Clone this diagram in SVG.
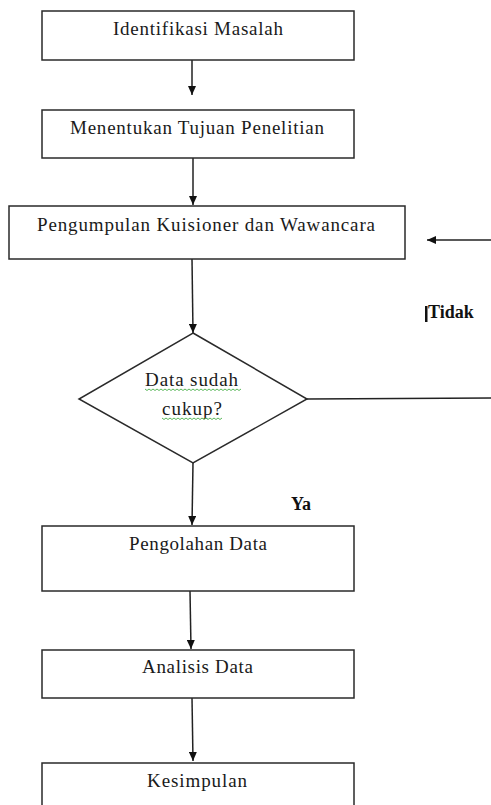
<svg xmlns="http://www.w3.org/2000/svg" width="491" height="805" viewBox="0 0 491 805">
<style>
.box{fill:#fff;stroke:#2a2a2a;stroke-width:1.5}
.lbl{font-family:"Liberation Serif","Times New Roman",serif;font-size:19px;fill:#1a1a1a;text-anchor:start}
.bold{font-family:"Liberation Serif","Times New Roman",serif;font-size:18px;font-weight:bold;fill:#111}
.conn{stroke:#222;stroke-width:1.5;fill:none}
.wavy{stroke:#5cb85c;stroke-width:1;fill:none}
</style>
<defs>
<marker id="ah" markerUnits="userSpaceOnUse" markerWidth="9" markerHeight="8" refX="9" refY="4" orient="auto">
<path d="M0,0 L9,4 L0,8 z" fill="#111"/>
</marker>
</defs>
<rect width="491" height="805" fill="#fff"/>
<g id="connectors">
<line class="conn" x1="192" y1="60" x2="192" y2="95" marker-end="url(#ah)"/>
<line class="conn" x1="193" y1="158" x2="193" y2="205" marker-end="url(#ah)"/>
<line class="conn" x1="192" y1="259" x2="193" y2="333" marker-end="url(#ah)"/>
<line class="conn" x1="193" y1="463" x2="192" y2="525" marker-end="url(#ah)"/>
<line class="conn" x1="190" y1="591" x2="191" y2="649" marker-end="url(#ah)"/>
<line class="conn" x1="192" y1="698" x2="193" y2="761" marker-end="url(#ah)"/>
<line class="conn" x1="307" y1="399" x2="491" y2="398"/>
<line class="conn" x1="491" y1="240" x2="427" y2="240" marker-end="url(#ah)"/>
</g>
<g id="node-identifikasi">
<rect class="box" x="42" y="11" width="312" height="49"/>
<text class="lbl" x="113" y="35" textLength="170" lengthAdjust="spacing">Identifikasi Masalah</text>
</g>
<g id="node-tujuan">
<rect class="box" x="42" y="110" width="312" height="48"/>
<text class="lbl" x="70" y="134" textLength="254" lengthAdjust="spacing">Menentukan Tujuan Penelitian</text>
</g>
<g id="node-pengumpulan">
<rect class="box" x="9" y="206" width="396" height="53"/>
<text class="lbl" x="37" y="231" textLength="338" lengthAdjust="spacing">Pengumpulan Kuisioner dan Wawancara</text>
</g>
<g id="node-decision">
<polygon class="box" points="193,333 307,399 193,463 79,399"/>
<text class="lbl" x="145" y="386" textLength="93" lengthAdjust="spacing">Data sudah</text>
<text class="lbl" x="162" y="415" textLength="60" lengthAdjust="spacing">cukup?</text>
<path class="wavy" d="M145,389 l2,1.5 l2,-1.5 l2,1.5 l2,-1.5 l2,1.5 l2,-1.5 l2,1.5 l2,-1.5 l2,1.5 l2,-1.5 l2,1.5 l2,-1.5 l2,1.5 l2,-1.5 l2,1.5 l2,-1.5 l2,1.5 l2,-1.5 l2,1.5 l2,-1.5 l2,1.5 l2,-1.5 l2,1.5 l2,-1.5 l2,1.5 l2,-1.5 l2,1.5 l2,-1.5 l2,1.5 l2,-1.5 l2,1.5 l2,-1.5 l2,1.5 l2,-1.5 l2,1.5 l2,-1.5 l2,1.5 l2,-1.5 l2,1.5 l2,-1.5 l2,1.5 l2,-1.5 l2,1.5 l2,-1.5 l2,1.5 l2,-1.5 l2,1.5 l2,-1.5"/>
<path class="wavy" d="M162,418 l2,1.5 l2,-1.5 l2,1.5 l2,-1.5 l2,1.5 l2,-1.5 l2,1.5 l2,-1.5 l2,1.5 l2,-1.5 l2,1.5 l2,-1.5 l2,1.5 l2,-1.5 l2,1.5 l2,-1.5 l2,1.5 l2,-1.5 l2,1.5 l2,-1.5 l2,1.5 l2,-1.5 l2,1.5 l2,-1.5 l2,1.5 l2,-1.5 l2,1.5 l2,-1.5 l2,1.5 l2,-1.5"/>
</g>
<g id="label-tidak">
<rect x="425" y="306" width="2.5" height="16" fill="#111"/>
<text class="bold" x="428" y="318">Tidak</text>
</g>
<g id="label-ya">
<text class="bold" x="291" y="510">Ya</text>
</g>
<g id="node-pengolahan">
<rect class="box" x="42" y="526" width="312" height="65"/>
<text class="lbl" x="129" y="550" textLength="138" lengthAdjust="spacing">Pengolahan Data</text>
</g>
<g id="node-analisis">
<rect class="box" x="42" y="650" width="312" height="48"/>
<text class="lbl" x="142" y="673" textLength="111" lengthAdjust="spacing">Analisis Data</text>
</g>
<g id="node-kesimpulan">
<rect class="box" x="42" y="763" width="312" height="60"/>
<text class="lbl" x="147" y="787" textLength="100" lengthAdjust="spacing">Kesimpulan</text>
</g>
</svg>
